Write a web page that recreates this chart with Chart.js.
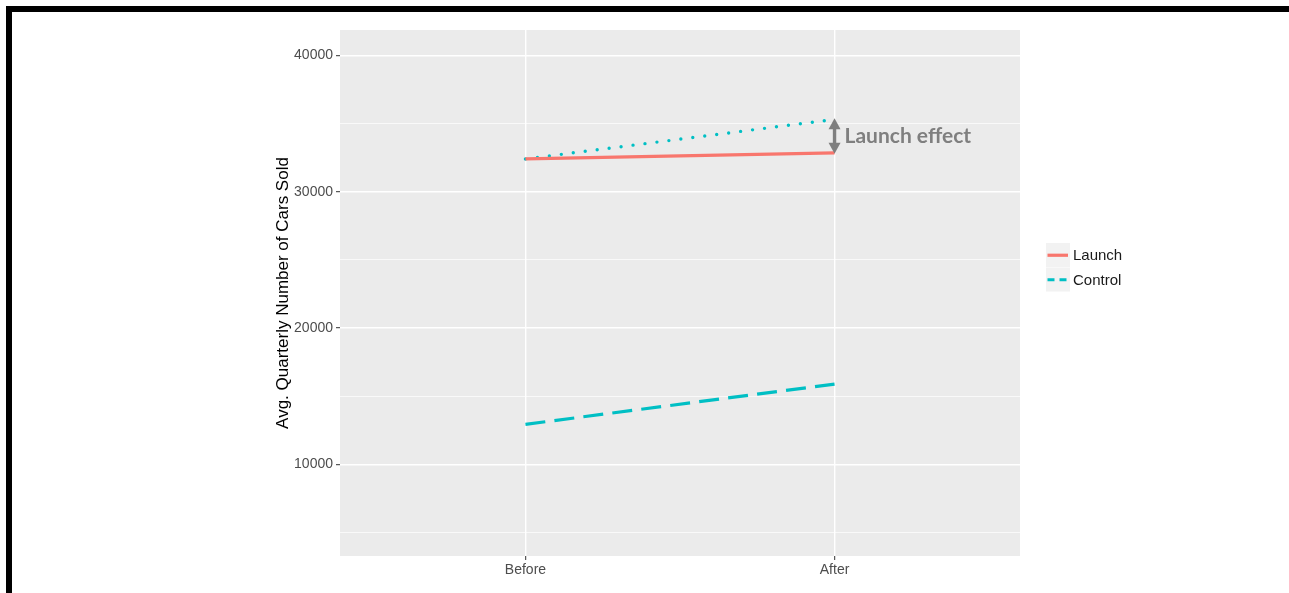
<!DOCTYPE html>
<html>
<head>
<meta charset="utf-8">
<script src="https://cdn.jsdelivr.net/npm/chart.js@4/dist/chart.umd.min.js"></script>
<style>
html,body{margin:0;padding:0;background:#fff;}
canvas{display:block;}
</style>
</head>
<body>
<canvas id="c" width="1289" height="593"></canvas>
<script>
// ---- data ----
const categories = ['Before', 'After'];
const launchValues = [32400, 32850];
const controlValues = [12950, 15900];
const counterfactualValues = [32400, 35300];
const yTickValues = [5000, 10000, 15000, 20000, 25000, 30000, 35000, 40000];
const yMajorTicks = [10000, 20000, 30000, 40000];
const legendOrder = ['Launch', 'Control'];
const yTitle = 'Avg. Quarterly Number of Cars Sold';
const annotationText = 'Launch effect';

const RED = '#F8766D', TEAL = '#00BFC4', GREY = '#7F7F7F';
const toXY = arr => arr.map((v, i) => ({x: i + 1, y: v}));

const panelPlugin = {
  id: 'panel',
  beforeDraw(chart) {
    const {ctx, chartArea: a} = chart;
    ctx.save();
    ctx.fillStyle = '#fff';
    ctx.fillRect(0, 0, chart.width, chart.height);
    ctx.fillStyle = '#EBEBEB';
    ctx.fillRect(a.left, a.top, a.right - a.left, a.bottom - a.top);
    ctx.restore();
  },
  afterDraw(chart) {
    const {ctx} = chart;
    const xs = chart.scales.x, ys = chart.scales.y;
    ctx.save();
    // annotation arrow
    const ax = xs.getPixelForValue(2);
    const yTop = ys.getPixelForValue(counterfactualValues[1]);
    const yBot = ys.getPixelForValue(launchValues[1]);
    ctx.strokeStyle = GREY; ctx.fillStyle = GREY; ctx.lineWidth = 3.4;
    ctx.beginPath(); ctx.moveTo(ax, yTop + 8); ctx.lineTo(ax, yBot - 8); ctx.stroke();
    ctx.beginPath(); ctx.moveTo(ax, yTop - 1); ctx.lineTo(ax - 6, yTop + 10); ctx.lineTo(ax + 6, yTop + 10); ctx.closePath(); ctx.fill();
    ctx.beginPath(); ctx.moveTo(ax, yBot + 1); ctx.lineTo(ax - 6, yBot - 10); ctx.lineTo(ax + 6, yBot - 10); ctx.closePath(); ctx.fill();
    ctx.font = 'bold 21px Lato';
    ctx.textBaseline = 'middle'; ctx.textAlign = 'left';
    ctx.fillText(annotationText, ax + 10, (yTop + yBot) / 2);

    // legend
    const items = legendOrder.map(n => chart.data.datasets.find(d => d.label === n));
    const lx = 1046, ly = 243, kh = 24.5, kw = 24;
    items.forEach((d, i) => {
      const y0 = ly + i * kh;
      ctx.fillStyle = '#F2F2F2';
      ctx.fillRect(lx, y0, kw, kh - 0.5);
      ctx.strokeStyle = d.borderColor; ctx.lineWidth = 3.2;
      ctx.setLineDash(d.borderDash && d.borderDash.length ? [7, 5] : []);
      ctx.lineCap = 'butt';
      ctx.beginPath(); ctx.moveTo(lx + 1.5, y0 + kh / 2); ctx.lineTo(lx + kw - 2, y0 + kh / 2); ctx.stroke();
      ctx.setLineDash([]);
      ctx.fillStyle = '#1A1A1A';
      ctx.font = '15px "Liberation Sans"';
      ctx.textBaseline = 'middle';
      ctx.fillText(d.label, lx + kw + 3, y0 + kh / 2 + 1);
    });

    // outer frame
    ctx.fillStyle = '#000';
    ctx.fillRect(6, 6, chart.width - 6, 6);
    ctx.fillRect(6, 6, 6, chart.height - 6);
    ctx.restore();
  }
};

const isMajor = v => yMajorTicks.includes(v);

new Chart(document.getElementById('c'), {
  type: 'line',
  data: {
    datasets: [
      {label: 'Control', data: toXY(controlValues), borderColor: TEAL, borderWidth: 3.2,
       borderDash: [20, 9.2], pointRadius: 0, order: 3},
      {label: 'Control trend', data: toXY(counterfactualValues), borderColor: TEAL, borderWidth: 3.4,
       borderDash: [0, 12.05], borderCapStyle: 'round', pointRadius: 0, order: 2},
      {label: 'Launch', data: toXY(launchValues), borderColor: RED, borderWidth: 3.2,
       pointRadius: 0, order: 1}
    ]
  },
  options: {
    responsive: false,
    animation: false,
    devicePixelRatio: 1,
    layout: {padding: {left: 270, right: 269, top: 30, bottom: 0}},
    plugins: {legend: {display: false}, tooltip: {enabled: false}},
    scales: {
      x: {
        type: 'linear', min: 0.4, max: 2.6,
        afterBuildTicks: s => { s.ticks = categories.map((c, i) => ({value: i + 1})); },
        afterFit: s => { s.height = 37; },
        ticks: {callback: v => categories[v - 1] || '', color: '#4D4D4D',
                font: {family: 'Liberation Sans', size: 14}, padding: 2, autoSkip: false, maxRotation: 0},
        grid: {color: '#FFFFFF', lineWidth: 1.4, tickColor: '#333333', tickLength: 4, tickWidth: 1},
        border: {display: false}
      },
      y: {
        type: 'linear', min: 3300, max: 41850,
        afterBuildTicks: s => { s.ticks = yTickValues.map(v => ({value: v})); },
        afterFit: s => { s.width = 70; },
        title: {display: true, text: yTitle, color: '#000000',
                font: {family: 'Liberation Sans', size: 17}, padding: {top: 3, bottom: 0}},
        ticks: {callback: v => isMajor(v) ? String(v) : '', color: '#4D4D4D',
                font: {family: 'Liberation Sans', size: 14}, padding: 3},
        grid: {color: '#FFFFFF',
               lineWidth: c => (c.tick && isMajor(c.tick.value)) ? 1.4 : 0.7,
               tickColor: c => (c.tick && isMajor(c.tick.value)) ? '#333333' : 'rgba(0,0,0,0)',
               tickLength: 4, tickWidth: 1},
        border: {display: false}
      }
    }
  },
  plugins: [panelPlugin]
});
</script>
</body>
</html>
